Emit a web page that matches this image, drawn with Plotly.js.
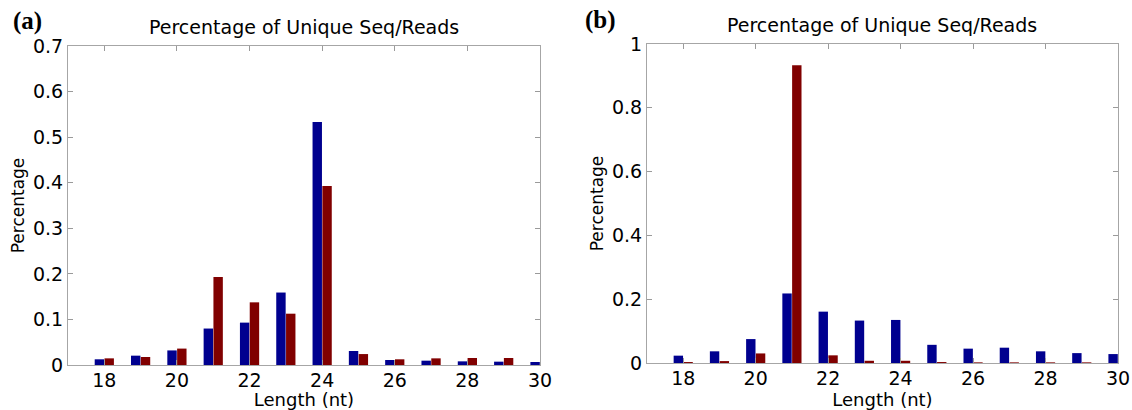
<!DOCTYPE html>
<html>
<head>
<meta charset="utf-8">
<script src="https://cdn.plot.ly/plotly-3.0.1.min.js"></script>
<style>html,body{margin:0;padding:0;background:#fff;}#chart{width:1132px;height:410px;}</style>
</head>
<body>
<div id="chart"></div>
<script>
// Data
const lengths = [18, 19, 20, 21, 22, 23, 24, 25, 26, 27, 28, 29, 30];
const aBlue = [0.0125, 0.0205, 0.032, 0.080, 0.093, 0.159, 0.533, 0.0307, 0.011, 0.0095, 0.008, 0.0073, 0.0066];
const aRed  = [0.0146, 0.0176, 0.036, 0.193, 0.1375, 0.1126, 0.393, 0.024, 0.0125, 0.0146, 0.0154, 0.0154, 0.012];
const bBlue = [0.023, 0.0366, 0.075, 0.218, 0.161, 0.133, 0.135, 0.057, 0.045, 0.048, 0.0366, 0.031, 0.028];
const bRed  = [0.003, 0.006, 0.030, 0.933, 0.024, 0.007, 0.007, 0.003, 0.002, 0.002, 0.002, 0.002, 0.002];
const xTicks = [18, 20, 22, 24, 26, 28, 30];
const panelTitle = "Percentage of Unique Seq/Reads";
const xTitle = "Length (nt)";
const yTitle = "Percentage";
const panelLabels = ["(a)", "(b)"];

const BLUE = "#00008f";
const RED = "#800000";
const tickFont = {family: "DejaVu Sans", size: 19, color: "#000"};

function bar(x, y, color, xa, ya) {
  return {type: "bar", x: x, y: y, xaxis: xa, yaxis: ya,
          marker: {color: color, line: {width: 0}}, showlegend: false, hoverinfo: "x+y"};
}
const traces = [
  bar(lengths, aBlue, BLUE, "x", "y"),
  bar(lengths, aRed, RED, "x", "y"),
  bar(lengths, bBlue, BLUE, "x2", "y2"),
  bar(lengths, bRed, RED, "x2", "y2")
];

function xAxis(domain, anchor) {
  return {domain: domain, anchor: anchor, range: [17, 30], tickvals: xTicks,
          ticks: "inside", ticklen: 5, tickcolor: "#9a9a9a", showline: true, mirror: "ticks",
          linecolor: "#a6a6a6", linewidth: 1, showgrid: false, zeroline: false,
          tickfont: tickFont, automargin: false, ticklabelstandoff: -2,
          title: {text: xTitle, font: {family: "DejaVu Sans", size: 18, color: "#000"}, standoff: 0}};
}
function yAxis(domain, anchor, range, dtick) {
  return {domain: domain, anchor: anchor, range: range, dtick: dtick, tick0: 0,
          ticks: "inside", ticklen: 5, tickcolor: "#9a9a9a", showline: true, mirror: "ticks",
          linecolor: "#a6a6a6", linewidth: 1, showgrid: false, zeroline: false,
          tickfont: tickFont, automargin: false,
          title: {text: yTitle, font: {family: "DejaVu Sans", size: 17, color: "#000"}, standoff: 4}};
}

const layout = {
  width: 1132, height: 410,
  margin: {l: 0, r: 0, t: 0, b: 0},
  paper_bgcolor: "#fff", plot_bgcolor: "#fff",
  barmode: "group", bargap: 0.46, bargroupgap: 0.04,
  xaxis: xAxis([68/1132, 540/1132], "y"),
  yaxis: yAxis([1 - 365/410, 1 - 46/410], "x", [0, 0.7], 0.1),
  xaxis2: xAxis([647/1132, 1118/1132], "y2"),
  yaxis2: yAxis([1 - 363/410, 1 - 44/410], "x2", [0, 1], 0.2),
  annotations: [
    {text: panelTitle, xref: "paper", yref: "paper", x: 304/1132, y: 1 - 27/410,
     xanchor: "center", yanchor: "middle", showarrow: false,
     font: {family: "DejaVu Sans", size: 19, color: "#000"}},
    {text: panelTitle, xref: "paper", yref: "paper", x: 882/1132, y: 1 - 25/410,
     xanchor: "center", yanchor: "middle", showarrow: false,
     font: {family: "DejaVu Sans", size: 19, color: "#000"}},
    {text: "<b>" + panelLabels[0] + "</b>", xref: "paper", yref: "paper", x: 27/1132, y: 1 - 21/410,
     xanchor: "center", yanchor: "middle", showarrow: false,
     font: {family: "Liberation Serif", size: 25, color: "#000"}},
    {text: "<b>" + panelLabels[1] + "</b>", xref: "paper", yref: "paper", x: 600/1132, y: 1 - 20/410,
     xanchor: "center", yanchor: "middle", showarrow: false,
     font: {family: "Liberation Serif", size: 25, color: "#000"}}
  ]
};

Plotly.newPlot("chart", traces, layout, {displayModeBar: false, staticPlot: true});
</script>
</body>
</html>
